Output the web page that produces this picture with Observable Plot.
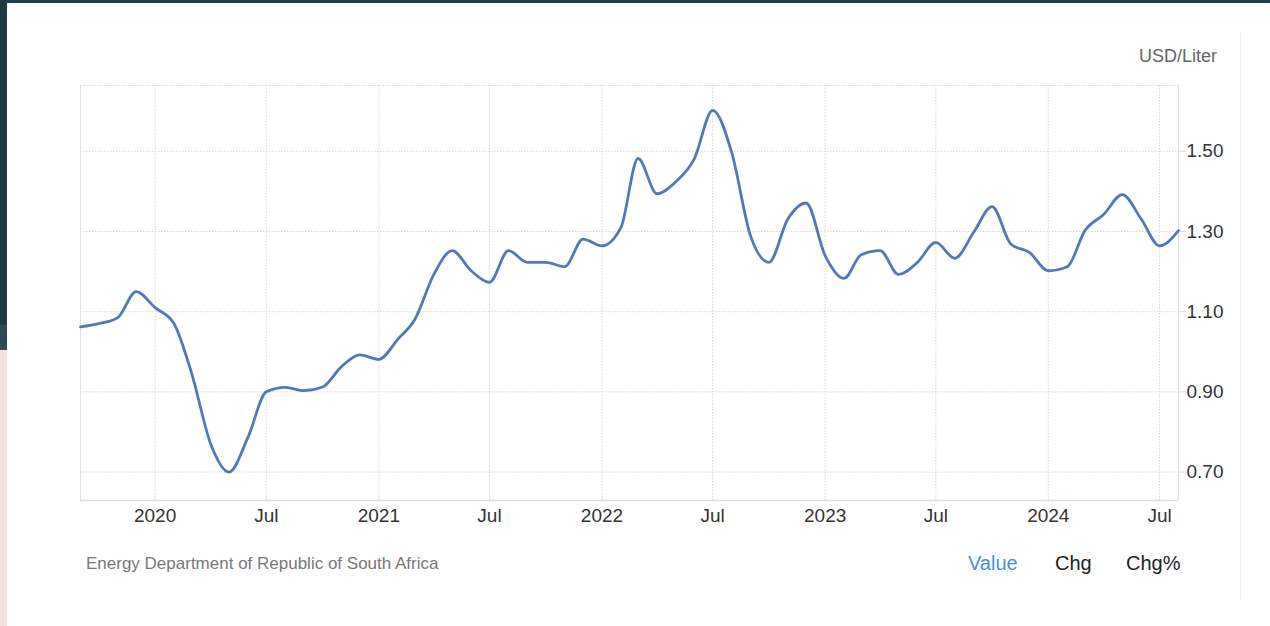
<!DOCTYPE html>
<html>
<head>
<meta charset="utf-8">
<script src="https://cdn.jsdelivr.net/npm/d3@7"></script>
<script src="https://cdn.jsdelivr.net/npm/@observablehq/plot@0.6"></script>
<style>
  html, body { margin: 0; padding: 0; }
  body { width: 1270px; height: 626px; position: relative; overflow: hidden; background: #ffffff;
         font-family: "Liberation Sans", Arial, Helvetica, sans-serif; }
  .abs { position: absolute; white-space: nowrap; }
</style>
</head>
<body>
<div class="abs" style="left:0;top:0;width:1270px;height:3px;background:#1f3f4c;"></div>
<div class="abs" style="left:0;top:0;width:7px;height:325px;background:#1c3a46;"></div>
<div class="abs" style="left:0;top:325px;width:7px;height:25px;background:#2c4a56;"></div>
<div class="abs" style="left:0;top:350px;width:7px;height:276px;background:#f6e2e3;"></div>
<div class="abs" style="left:1240px;top:33px;width:1px;height:567px;background:#eeeeee;"></div>

<div id="chart" class="abs" style="left:20px;top:40px;"></div>

<div class="abs" style="left:1139px;top:46px;font-size:18px;line-height:20px;color:#666;">USD/Liter</div>
<div class="abs" style="left:86px;top:554px;font-size:17px;line-height:20px;color:#777;">Energy Department of Republic of South Africa</div>
<div class="abs" style="left:968px;top:552px;font-size:20px;line-height:22px;color:#4a8fdd;">Value</div>
<div class="abs" style="left:1055px;top:552px;font-size:20px;line-height:22px;color:#222;">Chg</div>
<div class="abs" style="left:1126px;top:552px;font-size:20px;line-height:22px;color:#222;">Chg%</div>

<script>
// ---- data (monthly, USD per liter) ----
const months = [
  "2019-09","2019-10","2019-11","2019-12",
  "2020-01","2020-02","2020-03","2020-04","2020-05","2020-06","2020-07","2020-08","2020-09","2020-10","2020-11","2020-12",
  "2021-01","2021-02","2021-03","2021-04","2021-05","2021-06","2021-07","2021-08","2021-09","2021-10","2021-11","2021-12",
  "2022-01","2022-02","2022-03","2022-04","2022-05","2022-06","2022-07","2022-08","2022-09","2022-10","2022-11","2022-12",
  "2023-01","2023-02","2023-03","2023-04","2023-05","2023-06","2023-07","2023-08","2023-09","2023-10","2023-11","2023-12",
  "2024-01","2024-02","2024-03","2024-04","2024-05","2024-06","2024-07","2024-08"
];
const prices = [
  1.062, 1.070, 1.085, 1.150,
  1.110, 1.070, 0.945, 0.770, 0.700, 0.787, 0.900, 0.911, 0.903, 0.912, 0.963, 0.992,
  0.981, 1.031, 1.081, 1.193, 1.252, 1.202, 1.173, 1.252, 1.223, 1.223, 1.212, 1.281,
  1.264, 1.310, 1.482, 1.394, 1.423, 1.481, 1.602, 1.498, 1.289, 1.223, 1.331, 1.371,
  1.240, 1.183, 1.242, 1.252, 1.193, 1.223, 1.273, 1.233, 1.298, 1.362, 1.268, 1.248,
  1.202, 1.212, 1.302, 1.343, 1.392, 1.331, 1.264, 1.302
];
const xTickMonths = ["2020-01","2020-07","2021-01","2021-07","2022-01","2022-07","2023-01","2023-07","2024-01","2024-07"];
const xTickLabels = ["2020","Jul","2021","Jul","2022","Jul","2023","Jul","2024","Jul"];
const yTicks = [0.70, 0.90, 1.10, 1.30, 1.50];
const yTickLabels = ["0.70","0.90","1.10","1.30","1.50"];
const unitLabel = "USD/Liter";

// ---- build ----
const toDate = s => { const [y, m] = s.split("-").map(Number); return new Date(Date.UTC(y, m - 1, 1)); };
const data = months.map((m, i) => ({date: toDate(m), value: prices[i]}));
const xTicks = xTickMonths.map(toDate);
const xLabelMap = new Map(xTicks.map((d, i) => [+d, xTickLabels[i]]));
const yLabelMap = new Map(yTicks.map((v, i) => [v, yTickLabels[i]]));

const xDomain = [toDate("2019-09"), toDate("2024-08")];
const yDomain = [0.629, 1.664];

const grid = {stroke: "#d6d6d6", strokeOpacity: 1, strokeWidth: 1, strokeDasharray: "1.5,1.5"};

const chart = Plot.plot({
  width: 1220,
  height: 500,
  marginLeft: 60,
  marginRight: 62,
  marginTop: 45,
  marginBottom: 40,
  style: {fontFamily: "'Liberation Sans', Arial, Helvetica, sans-serif", fontSize: "19px", color: "#333", background: "transparent", overflow: "visible"},
  x: {type: "utc", domain: xDomain},
  y: {domain: yDomain},
  marks: [
    Plot.gridY(yTicks, grid),
    Plot.gridX(xTicks, grid),
    Plot.ruleY([yDomain[1]], grid),
    Plot.ruleX([xDomain[0]], {stroke: "#e2e2e2", strokeWidth: 1}),
    Plot.ruleX([xDomain[1]], {stroke: "#dddddd", strokeWidth: 1}),
    Plot.ruleY([yDomain[0]], {stroke: "#dddddd", strokeWidth: 1.5}),
    Plot.line(data, {x: "date", y: "value", stroke: "#5179b8", strokeWidth: 2.8, curve: "monotone-x"}),
    Plot.axisX(xTicks, {anchor: "bottom", tickSize: 0, tickPadding: 8, label: null,
      tickFormat: d => xLabelMap.get(+d), fill: "#333"}),
    Plot.axisY(yTicks, {anchor: "right", tickSize: 7, tickPadding: 1, label: null,
      tickFormat: v => yLabelMap.get(v), stroke: "#dddddd", fill: "#333"})
  ]
});
document.getElementById("chart").appendChild(chart);
</script>
</body>
</html>
